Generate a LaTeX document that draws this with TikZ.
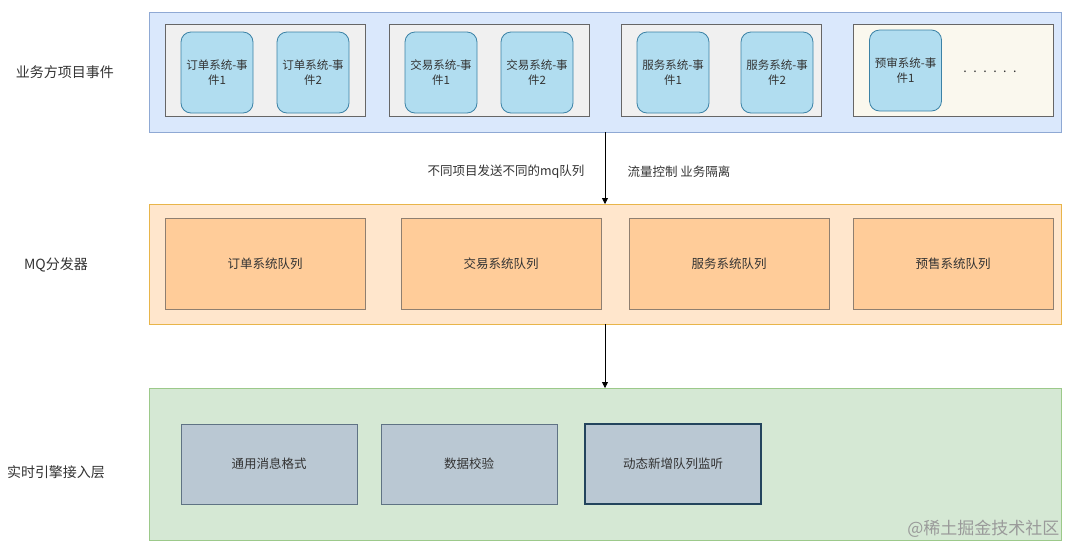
\documentclass[tikz,border=0pt]{standalone}
\usepackage{fontspec}
\usepackage{xcolor}
\usepackage{tikz}
\usetikzlibrary{arrows.meta}
\newfontfamily\cjk{Noto Sans CJK SC}
\definecolor{ink}{HTML}{333333}
\definecolor{bizfill}{HTML}{DAE8FC}
\definecolor{bizline}{HTML}{8FA9D4}
\definecolor{grpfill}{HTML}{F0F0F0}
\definecolor{grpline}{HTML}{666666}
\definecolor{creamfill}{HTML}{FAF8EE}
\definecolor{evtfill}{HTML}{B1DDF0}
\definecolor{evtline}{HTML}{3B82A6}
\definecolor{mqfill}{HTML}{FFE6CC}
\definecolor{mqline}{HTML}{E8B54A}
\definecolor{qfill}{HTML}{FFCC99}
\definecolor{qline}{HTML}{8F7F70}
\definecolor{rtfill}{HTML}{D5E8D4}
\definecolor{rtline}{HTML}{9CC98A}
\definecolor{modfill}{HTML}{BAC8D3}
\definecolor{modline}{HTML}{5F7384}
\definecolor{moddark}{HTML}{23445D}
\definecolor{mark}{HTML}{9A9A9A}
\tikzset{
  layer/.style={draw=#1line, fill=#1fill, line width=0.8pt, inner sep=0pt, outer sep=0pt},
  grp/.style={draw=grpline, fill=grpfill, line width=0.8pt, inner sep=0pt, minimum width=200pt, minimum height=92pt},
  evt/.style={draw=evtline, fill=evtfill, line width=0.8pt, rounded corners=10pt, inner sep=0pt,
    minimum width=72pt, minimum height=81pt, align=center, text=ink, font=\cjk\fontsize{11.5}{15}\selectfont},
  queue/.style={draw=qline, fill=qfill, line width=0.8pt, inner sep=0pt, minimum width=200pt, minimum height=91pt,
    text=ink, font=\cjk\fontsize{12.5}{15}\selectfont},
  mod/.style={draw=modline, fill=modfill, line width=0.8pt, inner sep=0pt, minimum width=176pt, minimum height=80pt,
    text=ink, font=\cjk\fontsize{12.5}{15}\selectfont},
  side/.style={text=ink, font=\cjk\fontsize{14}{16}\selectfont},
  note/.style={text=ink, font=\cjk\fontsize{12.5}{15}\selectfont},
  flow/.style={draw=black, line width=0.8pt, -{Triangle[length=6pt,width=6pt]}},
}

\begin{document}
\begin{tikzpicture}[x=1pt,y=-1pt]
  \useasboundingbox[fill=white] (0,0) rectangle (1080,558);

  % top layer: business events
  \node[layer=biz, minimum width=912pt, minimum height=120pt] (biz) at (605,72) {};
  \node[side] (bizlab) at (65,72) {业务方项目事件};
  \node[grp] (g1) at (265,70) {};
  \node[grp] (g2) at (489,70) {};
  \node[grp] (g3) at (721,70) {};
  \node[grp, fill=creamfill] (g4) at (953,70) {};
  \node[evt] (e11) at (217,72.5) {订单系统-事\\件1};
  \node[evt] (e12) at (313,72.5) {订单系统-事\\件2};
  \node[evt] (e21) at (441,72.5) {交易系统-事\\件1};
  \node[evt] (e22) at (537,72.5) {交易系统-事\\件2};
  \node[evt] (e31) at (673,72.5) {服务系统-事\\件1};
  \node[evt] (e32) at (777,72.5) {服务系统-事\\件2};
  \node[evt] (e41) at (905.5,70.5) {预审系统-事\\件1};
  \node[note] (more) at (990,72) {.\hspace{6.5pt}.\hspace{6.5pt}.\hspace{6.5pt}.\hspace{6.5pt}.\hspace{6.5pt}.};

  % middle layer: MQ
  \node[layer=mq, minimum width=912pt, minimum height=120pt] (mq) at (605,264) {};
  \node[side] (mqlab) at (56,265) {MQ分发器};
  \node[queue] (q1) at (265,263.5) {订单系统队列};
  \node[queue] (q2) at (501,263.5) {交易系统队列};
  \node[queue] (q3) at (729,263.5) {服务系统队列};
  \node[queue] (q4) at (953,263.5) {预售系统队列};

  % bottom layer: realtime engine
  \node[layer=rt, minimum width=912pt, minimum height=152pt] (rt) at (605,464) {};
  \node[side] (rtlab) at (56,472) {实时引擎接入层};
  \node[mod] (m1) at (269,464) {通用消息格式};
  \node[mod] (m2) at (469,464) {数据校验};
  \node[mod, draw=moddark, line width=2pt] (m3) at (673,464) {动态新增队列监听};
  \node[text=mark, font=\cjk\fontsize{17}{19}\selectfont, anchor=east] (wm) at (1063,529) {@稀土掘金技术社区};

  \draw[flow] (biz.south) -- (mq.north);
  \draw[flow] (mq.south) -- (rt.north);
  \node[note, anchor=east] (why) at (588,172) {不同项目发送不同的mq队列};
  \node[note, anchor=west] (how) at (624,172) {流量控制 业务隔离};
\end{tikzpicture}
\end{document}
